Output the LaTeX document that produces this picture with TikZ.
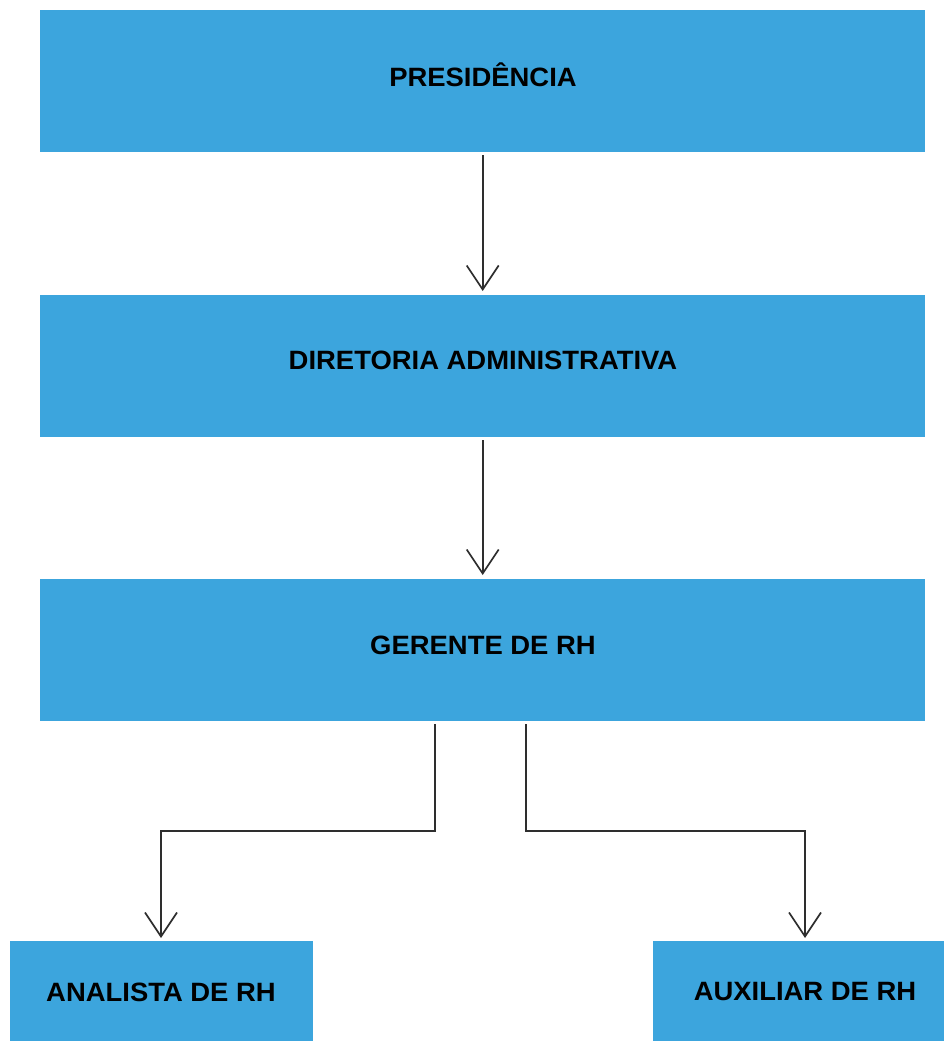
\documentclass[tikz,border=0pt]{standalone}
\usepackage{fontspec}
\setmainfont{Liberation Sans}
\usetikzlibrary{arrows.meta}
\definecolor{boxblue}{HTML}{3CA5DD}
\definecolor{linegray}{HTML}{2E2E2E}
\begin{document}
\begin{tikzpicture}[x=1pt,y=-1pt,
  box/.style={fill=boxblue,draw=none,inner sep=0pt,anchor=north west},
  lbl/.style={font=\fontsize{26.5}{30}\selectfont\bfseries,text=black,inner sep=0pt,xscale=1.035},
  conn/.style={draw=linegray,line width=1.7pt,-{Straight Barb[length=24pt,width=32pt,line width=1.7pt]}}]
\useasboundingbox (0,0) rectangle (944,1041);
\node[box,minimum width=885pt,minimum height=142pt] (pres) at (40,10) {};
\node[box,minimum width=885pt,minimum height=142pt] (dir) at (40,295) {};
\node[box,minimum width=885pt,minimum height=142pt] (ger) at (40,579) {};
\node[box,minimum width=303pt,minimum height=100pt] (ana) at (10,941) {};
\node[box,minimum width=291pt,minimum height=100pt] (aux) at (653,941) {};
\node[lbl] (tpres) at (483,75) {PRESIDÊNCIA};
\node[lbl] (tdir) at (483,360) {DIRETORIA ADMINISTRATIVA};
\node[lbl] (tger) at (483,645) {GERENTE DE RH};
\node[lbl] (tana) at (161,992) {ANALISTA DE RH};
\node[lbl] (taux) at (805,992) {AUXILIAR DE RH};
\coordinate (p1) at ([yshift=-3pt]pres.south);
\coordinate (d1) at ([yshift=-3pt]dir.south);
\draw[conn] (p1) -- ([yshift=4pt]dir.north);
\draw[conn] (d1) -- ([yshift=4pt]ger.north);
\coordinate (gl) at (435,724);
\coordinate (gr) at (526,724);
\coordinate (al) at (161,938);
\coordinate (ar) at (805,938);
\draw[conn] (gl) |- (al |- 0,831) -- (al);
\draw[conn] (gr) |- (ar |- 0,831) -- (ar);
\end{tikzpicture}
\end{document}
